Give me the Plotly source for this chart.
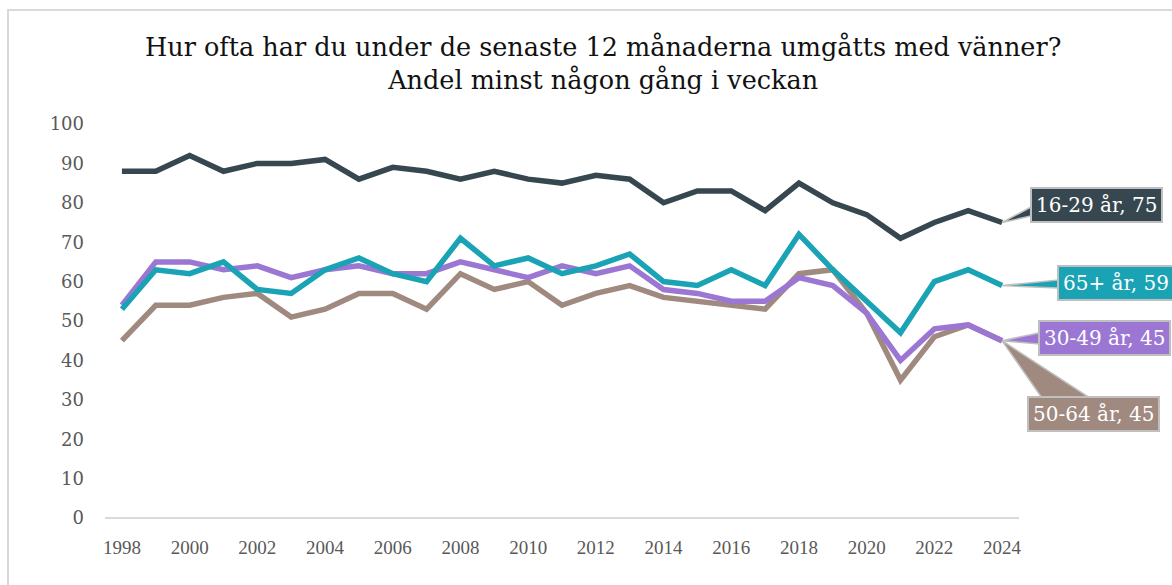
import plotly.graph_objects as go

years = list(range(1998, 2025))
s16_29 = [88, 88, 92, 88, 90, 90, 91, 86, 89, 88, 86, 88, 86, 85, 87, 86, 80, 83, 83, 78, 85, 80, 77, 71, 75, 78, 75]
s30_49 = [54, 65, 65, 63, 64, 61, 63, 64, 62, 62, 65, 63, 61, 64, 62, 64, 58, 57, 55, 55, 61, 59, 52, 40, 48, 49, 45]
s50_64 = [45, 54, 54, 56, 57, 51, 53, 57, 57, 53, 62, 58, 60, 54, 57, 59, 56, 55, 54, 53, 62, 63, 52, 35, 46, 49, 45]
s65 = [53, 63, 62, 65, 58, 57, 63, 66, 62, 60, 71, 64, 66, 62, 64, 67, 60, 59, 63, 59, 72, 63, 55, 47, 60, 63, 59]

names = ["16-29 år", "30-49 år", "50-64 år", "65+ år"]
colors = ["#36474F", "#9B77D3", "#A0897F", "#1AA3B4"]
series = [s16_29, s30_49, s50_64, s65]
draw_order = [2, 1, 3, 0]

W, H = 1172, 585
L, R, T, B = 105, 153, 124, 67
PW, PH = W - L - R, H - T - B
XMIN, XMAX = 1997.5, 2024.5
YMIN, YMAX = 0, 100


def px2paper(px, py):
    return (px - L) / PW, (H - B - py) / PH


def data2paper(x, y):
    return (x - XMIN) / (XMAX - XMIN), (y - YMIN) / (YMAX - YMIN)


fig = go.Figure()
for i in draw_order:
    fig.add_trace(go.Scatter(
        x=years, y=series[i], mode="lines", name=names[i],
        line=dict(color=colors[i], width=5.5), showlegend=False,
    ))

# callout boxes: (series index, box left px, box center px, wedge base points px)
callouts = [
    (0, 1030, 205, [(1031, 207), (1031, 216)]),
    (3, 1057, 283, [(1058, 280), (1058, 288)]),
    (1, 1038, 338, [(1039, 333), (1039, 344)]),
    (2, 1027, 414, [(1042, 398), (1090, 398)]),
]
shapes = []
annotations = []
for idx, bx, by, base in callouts:
    tx, ty = data2paper(years[-1], series[idx][-1])
    (b1x, b1y), (b2x, b2y) = [px2paper(*p) for p in base]
    shapes.append(dict(
        type="path", xref="paper", yref="paper",
        path=f"M {tx},{ty} L {b1x},{b1y} L {b2x},{b2y} Z",
        fillcolor=colors[idx], line=dict(color="#BFBFBF", width=1.5), layer="above",
    ))
    ax, ay = px2paper(bx, by)
    annotations.append(dict(
        xref="paper", yref="paper", x=ax, y=ay, xanchor="left", yanchor="middle",
        text=f"{names[idx]}, {series[idx][-1]}", showarrow=False,
        font=dict(family="DejaVu Serif, serif", size=20, color="white"),
        bgcolor=colors[idx], bordercolor="#BFBFBF", borderwidth=2, borderpad=4,
    ))

# outer chart border
bx0, by0 = px2paper(8, 10)
bx1, by1 = px2paper(1190, 600)
shapes.append(dict(type="rect", xref="paper", yref="paper", x0=bx0, y0=by1, x1=bx1, y1=by0,
                   line=dict(color="#D9D9D9", width=2), fillcolor="rgba(0,0,0,0)", layer="below"))

tx, ty = px2paper(603, 64)
annotations.append(dict(
    xref="paper", yref="paper", x=tx, y=ty, xanchor="center", yanchor="middle",
    text="Hur ofta har du under de senaste 12 månaderna umgåtts med vänner?<br>Andel minst någon gång i veckan",
    showarrow=False, font=dict(family="DejaVu Serif, serif", size=25.5, color="#111111"),
))

fig.update_layout(
    width=W, height=H,
    margin=dict(l=L, r=R, t=T, b=B),
    paper_bgcolor="white", plot_bgcolor="white",
    shapes=shapes, annotations=annotations,
    xaxis=dict(
        range=[XMIN, XMAX], tickvals=list(range(1998, 2025, 2)),
        showgrid=False, zeroline=False, showline=False, ticks="",
        tickfont=dict(family="Liberation Serif, serif", size=19, color="#595959"),
        ticklabelstandoff=16,
    ),
    yaxis=dict(
        range=[YMIN, YMAX], tickvals=list(range(0, 101, 10)),
        showgrid=False, zeroline=True, zerolinecolor="#D9D9D9", zerolinewidth=2,
        showline=False, ticks="",
        tickfont=dict(family="DejaVu Serif, serif", size=18, color="#595959"),
        ticklabelstandoff=20,
    ),
)
fig.write_html("out.html", config={"displayModeBar": False},
               post_script="document.body.style.margin='0px';")
